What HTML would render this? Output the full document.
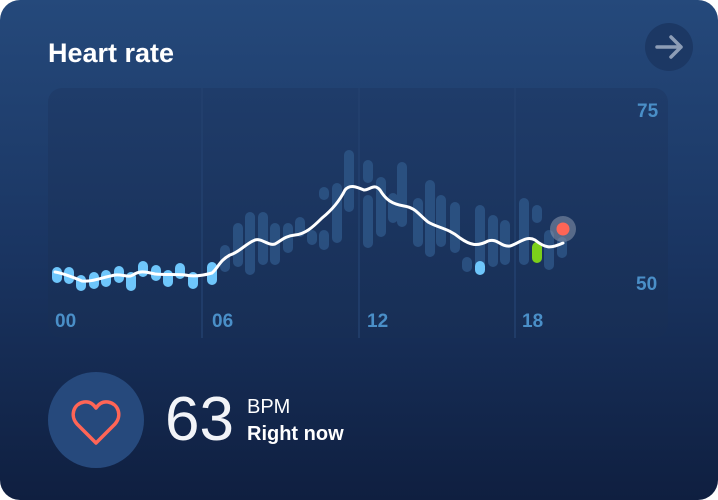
<!DOCTYPE html>
<html><head><meta charset="utf-8"><style>
html,body{margin:0;padding:0;background:#fff;width:718px;height:500px;overflow:hidden}
svg{display:block}
text{font-family:"Liberation Sans",sans-serif}
</style></head><body>
<svg width="718" height="500" viewBox="0 0 718 500">
<defs>
<linearGradient id="bg" x1="0" y1="0" x2="0" y2="1">
<stop offset="0" stop-color="#25497b"/><stop offset="0.5" stop-color="#1a3562"/><stop offset="1" stop-color="#0f1f40"/>
</linearGradient>
<linearGradient id="pn" x1="0" y1="0" x2="0" y2="1">
<stop offset="0" stop-color="#1f3c6a"/><stop offset="1" stop-color="#172e55"/>
</linearGradient>
</defs>
<rect x="0" y="0" width="718" height="500" rx="20" fill="url(#bg)"/>
<text x="48" y="62" font-size="27" font-weight="bold" fill="#fff">Heart rate</text>
<circle cx="669" cy="47" r="24" fill="#1c3864"/>
<path d="M657 47 H681 M671 37 L681 47 L671 57" stroke="#8d9db6" stroke-width="3.5" fill="none" stroke-linecap="round" stroke-linejoin="round"/>
<rect x="48" y="88" width="620" height="250" rx="14" fill="url(#pn)"/>
<g stroke="#23416f" stroke-width="1.5">
<line x1="202" y1="88" x2="202" y2="338"/><line x1="359" y1="88" x2="359" y2="338"/><line x1="515" y1="88" x2="515" y2="338"/>
</g>
<g stroke="#2d5586" stroke-width="10" stroke-linecap="round" opacity="0.85">
<line x1="225" y1="250" x2="225" y2="267"/><line x1="238" y1="228" x2="238" y2="262"/><line x1="250" y1="217" x2="250" y2="270"/>
<line x1="263" y1="217" x2="263" y2="260"/><line x1="275" y1="228" x2="275" y2="260"/><line x1="288" y1="228" x2="288" y2="248"/>
<line x1="300" y1="222" x2="300" y2="232"/><line x1="312" y1="235" x2="312" y2="240"/><line x1="324" y1="192" x2="324" y2="195"/>
<line x1="324" y1="235" x2="324" y2="245"/><line x1="337" y1="188" x2="337" y2="238"/><line x1="349" y1="155" x2="349" y2="207"/>
<line x1="368" y1="165" x2="368" y2="178"/><line x1="368" y1="200" x2="368" y2="243"/><line x1="381" y1="182" x2="381" y2="232"/>
<line x1="393" y1="198" x2="393" y2="218"/><line x1="402" y1="167" x2="402" y2="222"/><line x1="418" y1="203" x2="418" y2="242"/>
<line x1="430" y1="185" x2="430" y2="252"/><line x1="441" y1="200" x2="441" y2="242"/><line x1="455" y1="207" x2="455" y2="248"/>
<line x1="467" y1="262" x2="467" y2="267"/><line x1="480" y1="210" x2="480" y2="263"/><line x1="493" y1="220" x2="493" y2="262"/>
<line x1="505" y1="225" x2="505" y2="260"/><line x1="524" y1="203" x2="524" y2="260"/><line x1="537" y1="210" x2="537" y2="218"/>
<line x1="549" y1="235" x2="549" y2="265"/><line x1="562" y1="242" x2="562" y2="253"/>
</g>
<g stroke="#6ec6fb" stroke-width="10" stroke-linecap="round">
<line x1="57" y1="272" x2="57" y2="278"/><line x1="69" y1="272" x2="69" y2="279"/><line x1="81" y1="280" x2="81" y2="286"/>
<line x1="94" y1="277" x2="94" y2="284"/><line x1="106" y1="275" x2="106" y2="282"/><line x1="119" y1="271" x2="119" y2="278"/>
<line x1="131" y1="277" x2="131" y2="286"/><line x1="143" y1="266" x2="143" y2="272"/><line x1="156" y1="270" x2="156" y2="276"/>
<line x1="168" y1="275" x2="168" y2="282"/><line x1="180" y1="268" x2="180" y2="274"/><line x1="193" y1="277" x2="193" y2="284"/>
<line x1="212" y1="267" x2="212" y2="280"/><line x1="480" y1="266" x2="480" y2="270"/>
</g>
<line x1="537" y1="247" x2="537" y2="258" stroke="#7ccf1a" stroke-width="10" stroke-linecap="round"/>
<path d="M55 272 C62 273 70 276 82 281 C92 282 100 278 115 275 C122 274 128 278 133 275 C140 270 146 272 155 274 C165 275 175 274 185 275 C195 277 205 275 212 273 C218 268 220 260 230 255 C240 252 245 244 255 240 C262 238 268 246 275 244 C282 240 285 236 295 235 C305 234 312 228 322 218 C332 210 340 200 345 190 C350 184 357 187 364 190 C370 190 374 183 380 190 C386 200 392 204 404 206 C416 208 418 214 428 222 C438 228 448 228 460 238 C470 245 477 247 488 241 C498 238 500 247 510 246 C518 244 526 235 535 240 C545 248 550 249 563 243" stroke="#fff" stroke-width="3" fill="none" stroke-linecap="round"/>
<circle cx="563" cy="229" r="13" fill="#8a97ad" opacity="0.55"/>
<circle cx="563" cy="229" r="6.5" fill="#ff6556"/>
<g font-size="19" font-weight="bold" fill="#4a8fc8">
<text x="55" y="327">00</text><text x="212" y="327">06</text><text x="367" y="327">12</text><text x="522" y="327">18</text>
<text x="637" y="117">75</text><text x="636" y="290">50</text>
</g>
<circle cx="96" cy="420" r="48" fill="#26497c"/>
<path d="M96 443 L77 424 C70 416 73 404 84 402 C90 401 94 405 96 408 C98 405 102 401 108 402 C119 404 122 416 115 424 Z" stroke="#ff6556" stroke-width="3.5" fill="none" stroke-linejoin="round"/>
<text x="165" y="440" font-size="62" fill="#f2f4f8">63</text>
<text x="247" y="413" font-size="20" fill="#fff">BPM</text>
<text x="247" y="440" font-size="20" font-weight="bold" fill="#fff">Right now</text>
</svg>
</body></html>
